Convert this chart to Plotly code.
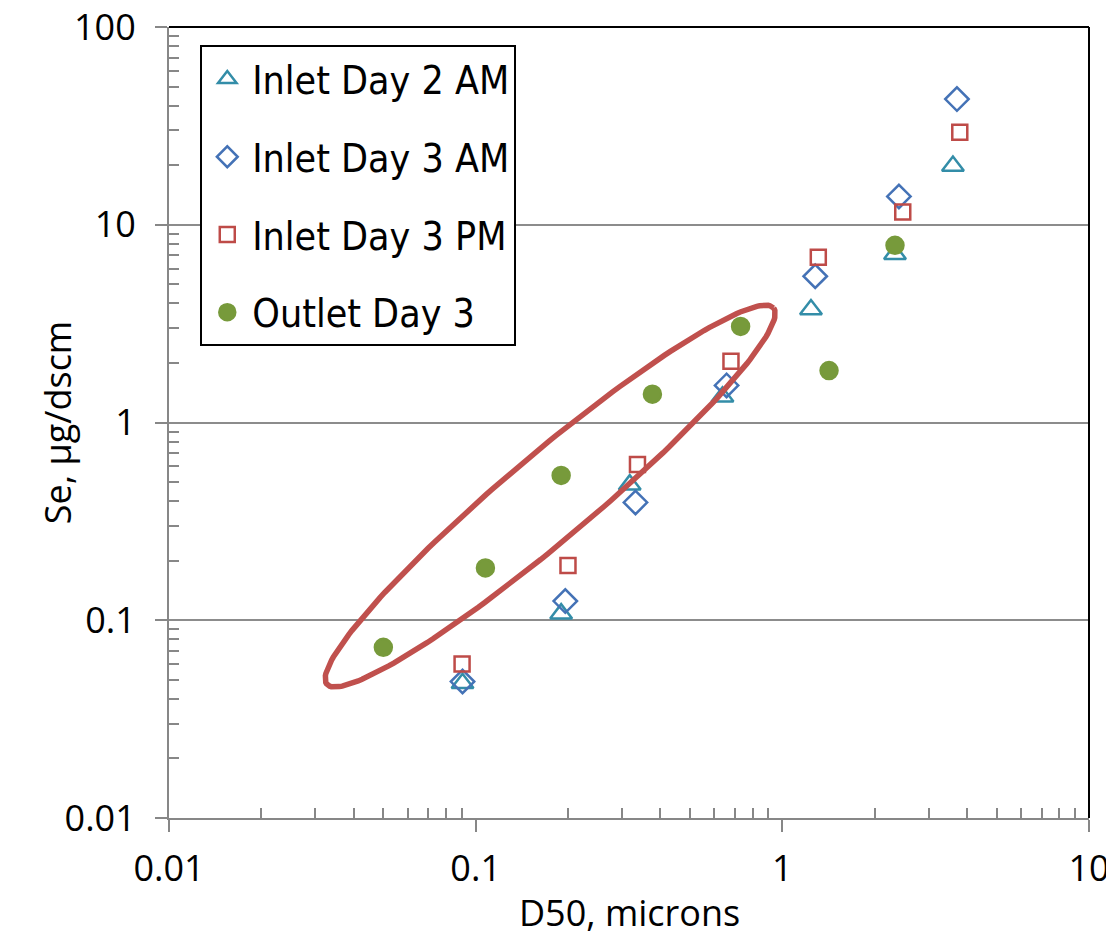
import numpy as np
import plotly.graph_objects as go

# Se concentration vs particle cut size (D50)
d2am_x = [0.0906, 0.19, 0.318, 0.638, 1.24, 2.33, 3.6]
d2am_y = [0.048, 0.108, 0.485, 1.35, 3.73, 7.1, 19.8]

d3am_x = [0.0906, 0.196, 0.332, 0.658, 1.28, 2.40, 3.71]
d3am_y = [0.049, 0.125, 0.394, 1.54, 5.49, 13.9, 43.2]

d3pm_x = [0.0903, 0.20, 0.337, 0.68, 1.31, 2.47, 3.79]
d3pm_y = [0.060, 0.189, 0.613, 2.04, 6.85, 11.6, 29.4]

out_x = [0.050, 0.1076, 0.19, 0.377, 0.731, 1.42, 2.33]
out_y = [0.073, 0.184, 0.54, 1.39, 3.06, 1.83, 7.87]

tick_vals = [0.01, 0.1, 1, 10, 100]
tick_text = ["0.01", "0.1", "1", "10", "100"]
# minor ticks at 2..9 of every decade
minor_vals = [m * 10.0 ** e for e in range(-2, 2) for m in range(2, 10)]

AXIS_GREY = "#878787"
TICK_FONT = dict(family="Open Sans", size=36, color="black")

fig = go.Figure()

series = [
    ("Inlet Day 2 AM", d2am_x, d2am_y, "triangle-up-open", 19, "#338DA8"),
    ("Inlet Day 3 AM", d3am_x, d3am_y, "diamond-open", 18, "#4472B6"),
    ("Inlet Day 3 PM", d3pm_x, d3pm_y, "square-open", 15, "#BE4B48"),
    ("Outlet Day 3", out_x, out_y, "circle", 17, "#779A3B"),
]
for name, xs, ys, sym, sz, col in series:
    fig.add_trace(go.Scatter(
        x=xs, y=ys, mode="markers", name=name, legendgroup=name,
        marker=dict(symbol=sym, size=sz, color=col, line=dict(width=2.5, color=col)),
    ))

# hand-drawn style ellipse around the outlet points (defined in log space)
cx, cy = -0.757, -0.372          # centre, log10 units
semi_a, semi_b = 292, 43         # semi-axes, px
ang = np.deg2rad(40.1)
px_x, px_y = 920 / 3, 791 / 4    # px per decade
t = np.linspace(0, 2 * np.pi, 200)
ex = semi_a * np.cos(t) * np.cos(ang) - semi_b * np.sin(t) * np.sin(ang)
ey = semi_a * np.cos(t) * np.sin(ang) + semi_b * np.sin(t) * np.cos(ang)
fig.add_trace(go.Scatter(
    x=10 ** (cx + ex / px_x), y=10 ** (cy + ey / px_y), mode="lines",
    line=dict(color="#C0504D", width=5.5), showlegend=False, hoverinfo="skip",
))

minor = dict(tickmode="array", tickvals=minor_vals, ticks="inside", ticklen=10,
             tickwidth=2, tickcolor=AXIS_GREY, showgrid=False)

fig.update_xaxes(
    type="log", range=[-2, 1], tickvals=tick_vals[:4], ticktext=tick_text[:4],
    showline=True, linecolor=AXIS_GREY, linewidth=2,
    ticks="outside", ticklen=12, tickwidth=2, tickcolor=AXIS_GREY,
    minor=minor, ticklabelstandoff=6, ticklabeloverflow="allow",
    showgrid=False, zeroline=False, tickfont=TICK_FONT, automargin=False,
)
fig.update_yaxes(
    type="log", range=[-2, 2], tickvals=tick_vals, ticktext=tick_text,
    showline=True, linecolor=AXIS_GREY, linewidth=2,
    ticks="outside", ticklen=12, tickwidth=2, tickcolor=AXIS_GREY,
    minor=minor, ticklabelstandoff=12, ticklabeloverflow="allow",
    showgrid=True, gridcolor="#8C8C8C", gridwidth=2, zeroline=False,
    tickfont=TICK_FONT, automargin=False,
)

# axis titles
fig.add_annotation(text="D50, microns", xref="paper", yref="paper", x=0.501, y=-0.119,
                   xanchor="center", yanchor="middle", showarrow=False, font=TICK_FONT)
fig.add_annotation(text="Se, µg/dscm", xref="paper", yref="paper", x=-0.121, y=0.5,
                   xanchor="center", yanchor="middle", textangle=-90, showarrow=False,
                   font=TICK_FONT)

# black plot-area border on top and right
fig.add_shape(type="line", xref="paper", yref="paper", x0=0, x1=1, y0=1, y1=1,
              line=dict(color="black", width=2))
fig.add_shape(type="line", xref="paper", yref="paper", x0=1, x1=1, y0=0, y1=1,
              line=dict(color="black", width=2))

fig.update_layout(
    width=1114, height=940,
    margin=dict(l=161, r=33, t=19, b=130),
    plot_bgcolor="white", paper_bgcolor="white",
    legend=dict(
        x=0.034, y=0.977, xanchor="left", yanchor="top",
        bordercolor="black", borderwidth=2, bgcolor="white",
        font=dict(family="DejaVu Sans Condensed, DejaVu Sans", size=39, color="black"),
        tracegroupgap=24, itemwidth=40,
    ),
)

fig.write_html("out.html")
